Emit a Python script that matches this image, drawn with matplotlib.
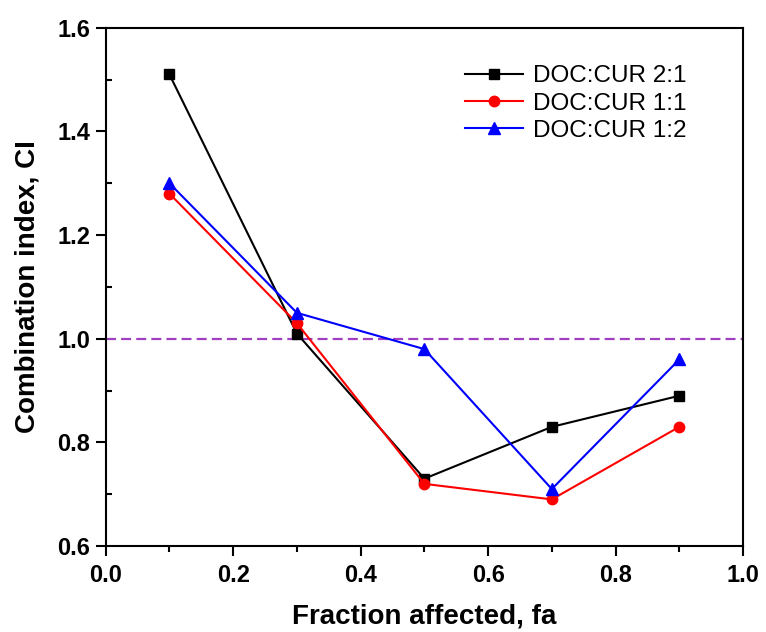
import matplotlib
matplotlib.use("Agg")
import matplotlib.pyplot as plt
from matplotlib.ticker import MultipleLocator

plt.rcParams["font.family"] = ["Liberation Sans", "DejaVu Sans"]

fa = [0.1, 0.3, 0.5, 0.7, 0.9]
ci_2_1 = [1.51, 1.01, 0.73, 0.83, 0.89]
ci_1_1 = [1.28, 1.03, 0.72, 0.69, 0.83]
ci_1_2 = [1.30, 1.05, 0.98, 0.71, 0.96]
labels = ["DOC:CUR 2:1", "DOC:CUR 1:1", "DOC:CUR 1:2"]

fig = plt.figure(figsize=(7.66, 6.32), dpi=100)
ax = fig.add_axes([0.138, 0.136, 0.832, 0.820])

ax.axhline(1.0, color="#a040c0", ls=(0, (4.5, 2.3)), lw=1.6, zorder=1)
ax.plot(fa, ci_2_1, color="black", marker="s", ms=6.5, lw=1.5, label=labels[0])
ax.plot(fa, ci_1_1, color="red", marker="o", ms=7.5, lw=1.5, label=labels[1])
ax.plot(fa, ci_1_2, color="blue", marker="^", ms=8.5, lw=1.5, label=labels[2])

ax.set_xlim(0, 1.0)
ax.set_ylim(0.6, 1.6)
ax.xaxis.set_major_locator(MultipleLocator(0.2))
ax.xaxis.set_minor_locator(MultipleLocator(0.1))
ax.yaxis.set_major_locator(MultipleLocator(0.2))
ax.yaxis.set_minor_locator(MultipleLocator(0.1))
ax.tick_params(axis="x", which="major", direction="out", length=7, width=1.5, pad=6)
ax.tick_params(axis="x", which="minor", direction="out", length=4, width=1.5)
ax.tick_params(axis="y", which="major", direction="out", length=7, width=1.5, pad=4)
ax.tick_params(axis="y", which="minor", direction="in", length=4, width=1.5)
ax.tick_params(labelsize=17)
for lab in ax.get_xticklabels() + ax.get_yticklabels():
    lab.set_fontweight("bold")
ax.xaxis.set_major_formatter(plt.FormatStrFormatter("%.1f"))
ax.yaxis.set_major_formatter(plt.FormatStrFormatter("%.1f"))
for sp in ax.spines.values():
    sp.set_linewidth(1.5)

ax.set_xlabel("Fraction affected, fa", fontsize=20, fontweight="bold", labelpad=12)
ax.set_ylabel("Combination index, CI", fontsize=20, fontweight="bold", labelpad=12)

ax.legend(loc="upper right", bbox_to_anchor=(0.945, 0.97), frameon=False,
          fontsize=17.5, handlelength=2.4, handletextpad=0.4, labelspacing=0.22)

fig.savefig("out.png")
